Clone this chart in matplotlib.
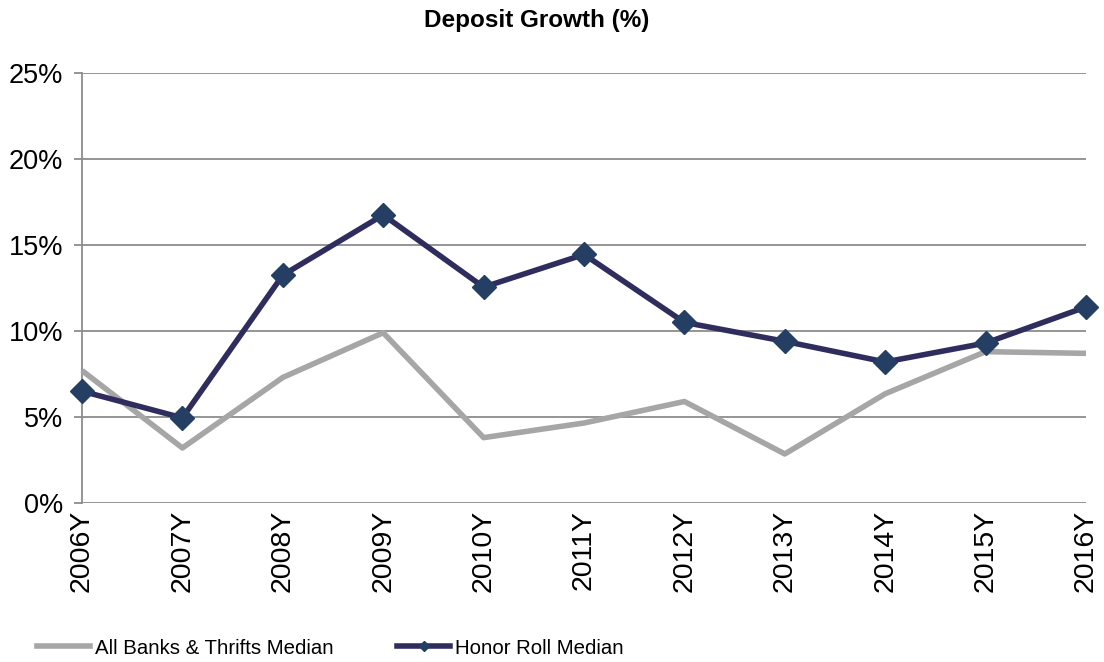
import matplotlib.pyplot as plt
from matplotlib.lines import Line2D

plt.rcParams['font.family'] = ['Liberation Sans', 'DejaVu Sans']

years = ["2006Y", "2007Y", "2008Y", "2009Y", "2010Y", "2011Y",
         "2012Y", "2013Y", "2014Y", "2015Y", "2016Y"]
all_banks = [7.7, 3.2, 7.3, 9.9, 3.8, 4.65, 5.9, 2.85, 6.35, 8.8, 8.7]
honor_roll = [6.5, 4.95, 13.25, 16.75, 12.55, 14.45, 10.5, 9.4, 8.2, 9.3, 11.4]

fig = plt.figure(figsize=(11.04, 6.62), dpi=100)
ax = fig.add_axes([0.0743, 0.2402, 0.9094, 0.6495])

x = list(range(len(years)))
ax.plot(x, all_banks, color='#A6A6A6', linewidth=4, solid_capstyle='butt', zorder=3,
        clip_on=False)
ax.plot(x, honor_roll, color='#2E2D5E', linewidth=4, zorder=4, clip_on=False,
        marker='D', markersize=12, markerfacecolor='#243F63', markeredgecolor='#243F63')

ax.set_xlim(0, 10)
ax.set_ylim(0, 25)
ax.set_yticks([0, 5, 10, 15, 20, 25])
ax.set_yticklabels([f"{v}%" for v in [0, 5, 10, 15, 20, 25]], fontsize=19.5)
ax.set_xticks(x)
ax.set_xticklabels(years, rotation=90, fontsize=20.5)
ax.yaxis.grid(True, color='#8C8C8C', linewidth=1.3)
ax.set_axisbelow(True)
for s in ['top', 'right', 'bottom']:
    ax.spines[s].set_visible(False)
ax.spines['left'].set_color('#8C8C8C')
ax.spines['left'].set_linewidth(1.3)
ax.tick_params(axis='y', length=6, color='#8C8C8C', width=1.3, pad=7.5)
ax.tick_params(axis='x', length=0, pad=5)

fig.text(537 / 1104, 1 - 20 / 662, 'Deposit Growth (%)', fontsize=17.5,
         fontweight='bold', ha='center', va='center')

handles = [
    Line2D([], [], color='#A6A6A6', linewidth=4),
    Line2D([], [], color='#2E2D5E', linewidth=4, marker='D', markersize=5,
           markerfacecolor='#243F63', markeredgecolor='#243F63'),
]
fig.legend(handles, ["All Banks & Thrifts Median", "Honor Roll Median"],
           loc='center left', bbox_to_anchor=(37 / 1104, 1 - 648 / 662), ncol=2,
           frameon=False, borderpad=0, borderaxespad=0,
           fontsize=14.7, handlelength=2.6, handletextpad=0.25, columnspacing=3.1)

fig.savefig('out.png', dpi=100)
